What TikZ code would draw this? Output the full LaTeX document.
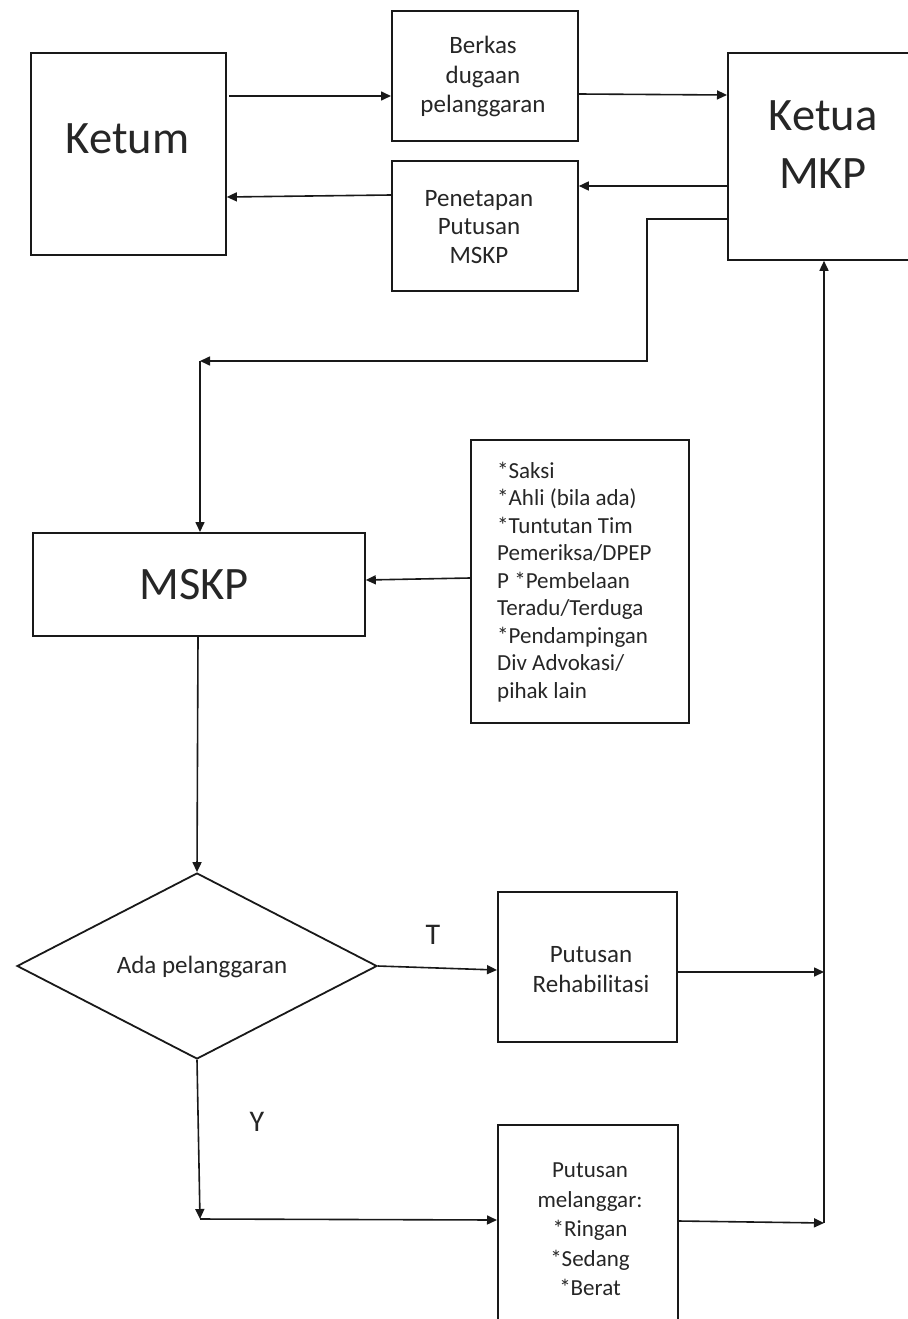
\documentclass[tikz,border=0pt]{standalone}
\usepackage{fontspec}
\setmainfont{Carlito}
\usetikzlibrary{arrows.meta,shapes.geometric}
\definecolor{linec}{RGB}{25,25,25}
\definecolor{txtc}{RGB}{38,38,38}
\begin{document}
\begin{tikzpicture}[x=1pt,y=-1pt,
  box/.style={draw=linec, line width=1.8pt, anchor=north west, inner sep=0pt},
  conn/.style={draw=linec, line width=1.6pt, -{Triangle[length=10pt,width=9pt]}},
  sm/.style={text=txtc, font=\fontsize{25}{29.5}\selectfont, align=center, anchor=north, inner sep=0pt},
  notetxt/.style={text=txtc, font=\fontsize{23}{27.5}\selectfont, align=left, anchor=north west, inner sep=0pt},
  big/.style={text=txtc, font=\fontsize{46.5}{58}\selectfont, align=center, anchor=north, inner sep=0pt},
  lbl/.style={text=txtc, font=\fontsize{30}{36}\selectfont, inner sep=0pt}
]
\useasboundingbox (0,0) rectangle (907,1319);

% boxes
\node[box, minimum width=195pt, minimum height=202pt] (ketum) at (30,52) {};
\node[box, minimum width=186pt, minimum height=130pt] (berkas) at (391,10) {};
\node[box, minimum width=186pt, minimum height=130pt] (penet) at (391,160) {};
\node[box, minimum width=200pt, minimum height=207pt] (ketua) at (727,52) {};
\node[box, minimum width=332pt, minimum height=103pt] (mskp) at (32,532) {};
\node[box, minimum width=218pt, minimum height=283pt] (notes) at (470,439) {};
\node[box, minimum width=179pt, minimum height=150pt] (rehab) at (497,891) {};
\node[box, minimum width=180pt, minimum height=215pt] (langgar) at (497,1124) {};
\node[draw=linec, line width=1.8pt, diamond, minimum width=360pt, minimum height=186pt, inner sep=0pt] (dia) at (197,966) {};

% texts
\node[big] (tketum) at (127.5,123) {Ketum};
\node[big] (tketua) at (823,100) {Ketua\\MKP};
\node[big] (tmskp) at (194,569) {MSKP};
\node[sm] (tberkas) at (483,36) {Berkas\\dugaan\\pelanggaran};
\node[sm, font=\fontsize{25}{28.5}\selectfont] (tpenet) at (479,190) {Penetapan\\Putusan\\MSKP};
\node[notetxt] (tnotes) at (497,461.5) {*Saksi\\*Ahli (bila ada)\\*Tuntutan Tim\\Pemeriksa/DPEP\\P *Pembelaan\\Teradu/Terduga\\*Pendampingan\\Div Advokasi/\\pihak lain};
\node[sm, font=\fontsize{25}{30}\selectfont] (trehab) at (591,946) {Putusan\\Rehabilitasi};
\node[sm, font=\fontsize{23}{29.5}\selectfont] (tlanggar) at (590,1163) {Putusan\\melanggar:\\*Ringan\\*Sedang\\*Berat};
\node[text=txtc, font=\fontsize{25}{29}\selectfont, inner sep=0pt] (tdia) at (202,967) {Ada pelanggaran};
\node[lbl] (lT) at (433,935) {T};
\node[lbl] (lY) at (257,1122) {Y};

% coordinates
\coordinate (c1) at (200,361);
\coordinate (c2) at (647,219);
\coordinate (c3) at (200,1219);
\coordinate (vb) at (824,1223);

% connectors
\draw[conn] (229,96) -- (berkas.west |- 0,96);
\draw[conn] (berkas.east |- 0,94) -- (ketua.west |- 0,95);
\draw[conn] (ketua.west |- 0,186) -- (penet.east |- 0,186);
\draw[conn] (penet.west |- 0,195) -- (ketum.east |- 0,197);
\draw[conn] (ketua.west |- c2) -- (c2) |- (c1);
\draw[conn] (c1) -- (c1 |- mskp.north);
\draw[conn] (notes.west |- 0,578) -- (mskp.east |- 0,580);
\draw[conn] (mskp.south -| 198,0) -- (dia.north);
\draw[conn] (dia.east) -- (rehab.west |- 0,970);
\draw[conn] (dia.south) -- (c3);
\draw[conn] (c3) -- (langgar.west |- 0,1220);
\draw[conn] (rehab.east |- 0,972) -- (vb |- 0,972);
\draw[conn] (langgar.east |- 0,1221) -- (vb);
\draw[conn] (vb) -- (vb |- ketua.south);
\end{tikzpicture}
\end{document}
